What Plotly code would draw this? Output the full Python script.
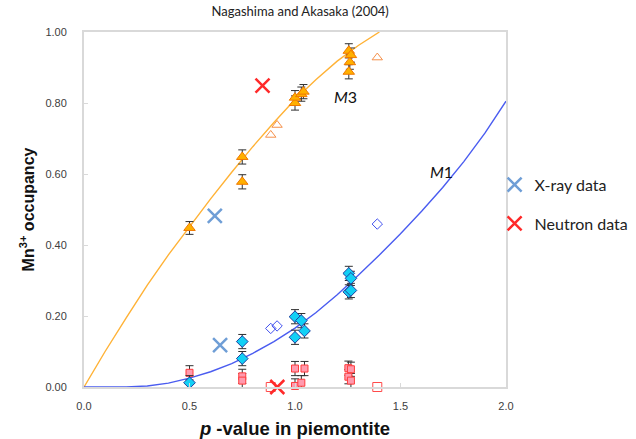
import plotly.graph_objects as go

# ---- data ----
m3_curve_x = [0.0, 0.1, 0.2, 0.3, 0.4, 0.5, 0.6, 0.7, 0.8, 0.9, 1.0, 1.1, 1.2, 1.3, 1.4]
m3_curve_y = [0.0, 0.100, 0.195, 0.287, 0.372, 0.452, 0.530, 0.605, 0.677, 0.745, 0.810, 0.866, 0.918, 0.962, 1.0]

m1_curve_x = [0.0, 0.1, 0.2, 0.3, 0.4, 0.5, 0.6, 0.7, 0.8, 0.9, 1.0, 1.1, 1.2, 1.3, 1.4, 1.5, 1.6, 1.7, 1.8, 1.9, 2.0]
m1_curve_y = [0.0, 0.0, 0.0, 0.003, 0.011, 0.025, 0.043, 0.066, 0.095, 0.128, 0.166, 0.210, 0.260, 0.315, 0.372,
              0.432, 0.495, 0.562, 0.635, 0.715, 0.805]

m3_fill_x = [0.50, 0.75, 0.75, 1.00, 1.00, 1.03, 1.04, 1.255, 1.265, 1.26, 1.255]
m3_fill_y = [0.448, 0.648, 0.578, 0.800, 0.815, 0.825, 0.832, 0.947, 0.935, 0.915, 0.888]
m3_fill_err = [0.018, 0.02, 0.02, 0.02, 0.02, 0.02, 0.02, 0.02, 0.02, 0.02, 0.02]

m3_open_x = [0.885, 0.915, 1.39]
m3_open_y = [0.710, 0.738, 0.928]

m1_fill_x = [0.50, 0.75, 0.75, 1.00, 1.00, 1.03, 1.045, 1.255, 1.265, 1.255, 1.265]
m1_fill_y = [0.012, 0.128, 0.080, 0.198, 0.140, 0.187, 0.158, 0.320, 0.306, 0.268, 0.272]
m1_fill_err = [0.02, 0.02, 0.02, 0.02, 0.02, 0.02, 0.02, 0.02, 0.02, 0.02, 0.02]

m1_open_x = [0.885, 0.915, 1.39]
m1_open_y = [0.165, 0.172, 0.459]

sq_fill_x = [0.50, 0.75, 0.75, 1.00, 1.045, 1.00, 1.03, 1.253, 1.265, 1.253, 1.265]
sq_fill_y = [0.040, 0.030, 0.018, 0.052, 0.052, 0.003, 0.012, 0.053, 0.050, 0.029, 0.018]
sq_fill_err = [0.02, 0.02, 0.02, 0.02, 0.02, 0.02, 0.02, 0.02, 0.02, 0.02, 0.02]

sq_open_x = [0.885, 1.39]
sq_open_y = [0.0, 0.0]

xray_x = [0.62, 0.645]
xray_y = [0.482, 0.118]

neutron_x = [0.846, 0.916]
neutron_y = [0.849, 0.0]

x_ticks = [0.0, 0.5, 1.0, 1.5, 2.0]
y_ticks = [0.0, 0.2, 0.4, 0.6, 0.8, 1.0]

# ---- figure ----
fig = go.Figure()

fig.add_trace(go.Scatter(x=m3_curve_x, y=m3_curve_y, mode="lines", line=dict(color="#FFB236", width=1.4),
                         showlegend=False, hoverinfo="skip"))
fig.add_trace(go.Scatter(x=m1_curve_x, y=m1_curve_y, mode="lines", line=dict(color="#4A5CF0", width=1.4),
                         showlegend=False, hoverinfo="skip"))

err_style = dict(type="data", thickness=1, width=4, color="#303030")

fig.add_trace(go.Scatter(x=sq_fill_x, y=sq_fill_y, mode="markers", cliponaxis=False,
                         error_y=dict(array=sq_fill_err, **err_style),
                         marker=dict(symbol="square", size=7, color="#FF9AAE", line=dict(color="#FF3B3B", width=1)),
                         showlegend=False))
fig.add_trace(go.Scatter(x=sq_open_x, y=sq_open_y, mode="markers", cliponaxis=False,
                         marker=dict(symbol="square-open", size=9, color="#FF4A4A", line=dict(width=1)),
                         showlegend=False))
fig.add_trace(go.Scatter(x=m1_fill_x, y=m1_fill_y, mode="markers", cliponaxis=False,
                         error_y=dict(array=m1_fill_err, **err_style),
                         marker=dict(symbol="diamond", size=9, color="#12D0F5", line=dict(color="#1F3FA0", width=1)),
                         showlegend=False))
fig.add_trace(go.Scatter(x=m1_open_x, y=m1_open_y, mode="markers",
                         marker=dict(symbol="diamond-open", size=8, color="#3F4FEF", line=dict(width=1)),
                         showlegend=False))
fig.add_trace(go.Scatter(x=m3_fill_x, y=m3_fill_y, mode="markers",
                         error_y=dict(array=m3_fill_err, **err_style),
                         marker=dict(symbol="triangle-up", size=10, color="#FFB000", line=dict(color="#F07800", width=1)),
                         showlegend=False))
fig.add_trace(go.Scatter(x=m3_open_x, y=m3_open_y, mode="markers",
                         marker=dict(symbol="triangle-up-open", size=9, color="#F5904A", line=dict(width=1)),
                         showlegend=False))

fig.add_trace(go.Scatter(x=xray_x, y=xray_y, mode="markers", name="X-ray data", cliponaxis=False,
                         marker=dict(symbol="x-thin", size=14, color="#6F9ED6", line=dict(color="#6F9ED6", width=2.5)),
                         legendgroup="a"))
fig.add_trace(go.Scatter(x=neutron_x, y=neutron_y, mode="markers", name="Neutron data", cliponaxis=False,
                         marker=dict(symbol="x-thin", size=14, color="#FF2A2A", line=dict(color="#FF2A2A", width=2.5)),
                         legendgroup="b"))

fig.add_annotation(x=1.237, y=0.817, text="<i>M</i>3", showarrow=False,
                   font=dict(family="Lato", size=16, color="#111111"))
fig.add_annotation(x=1.692, y=0.606, text="<i>M</i>1", showarrow=False,
                   font=dict(family="Lato", size=16, color="#111111"))

axis_common = dict(showline=True, linecolor="#D9D9D9", linewidth=2, mirror=True, showgrid=False, zeroline=False,
                   ticks="inside", ticklen=4, tickcolor="#D9D9D9", automargin=False,
                   tickfont=dict(family="Liberation Sans", size=11, color="#404040"))

fig.update_layout(
    width=636, height=439,
    margin=dict(l=84, r=130, t=32, b=52, autoexpand=False),
    paper_bgcolor="white", plot_bgcolor="white",
    title=dict(text="Nagashima and Akasaka (2004)", x=0.472, xref="container", y=0.973, yref="container",
               xanchor="center", yanchor="middle", font=dict(family="Lato", size=13, color="#222222")),
    xaxis=dict(range=[0, 2.0], tickvals=x_ticks, tickformat=".1f", ticklabelstandoff=8,
               title=dict(text="<b><i>p</i> -value in piemontite</b>", standoff=16,
                          font=dict(family="Liberation Sans", size=18.5, color="#111111")),
               **axis_common),
    yaxis=dict(range=[0, 1.0], tickvals=y_ticks, tickformat=".2f", ticklabelstandoff=13,
               title=dict(text="<b>Mn<sup>3+</sup> occupancy</b>", standoff=7,
                          font=dict(family="Liberation Sans", size=16, color="#111111")),
               **axis_common),
    legend=dict(x=0.973, y=0.618, xanchor="left", yanchor="top", bgcolor="rgba(0,0,0,0)",
                font=dict(family="Lato", size=16, color="#222222"), tracegroupgap=15),
)

fig.write_html("out.html", config={"displayModeBar": False},
               post_script="document.body.style.margin='0';")
